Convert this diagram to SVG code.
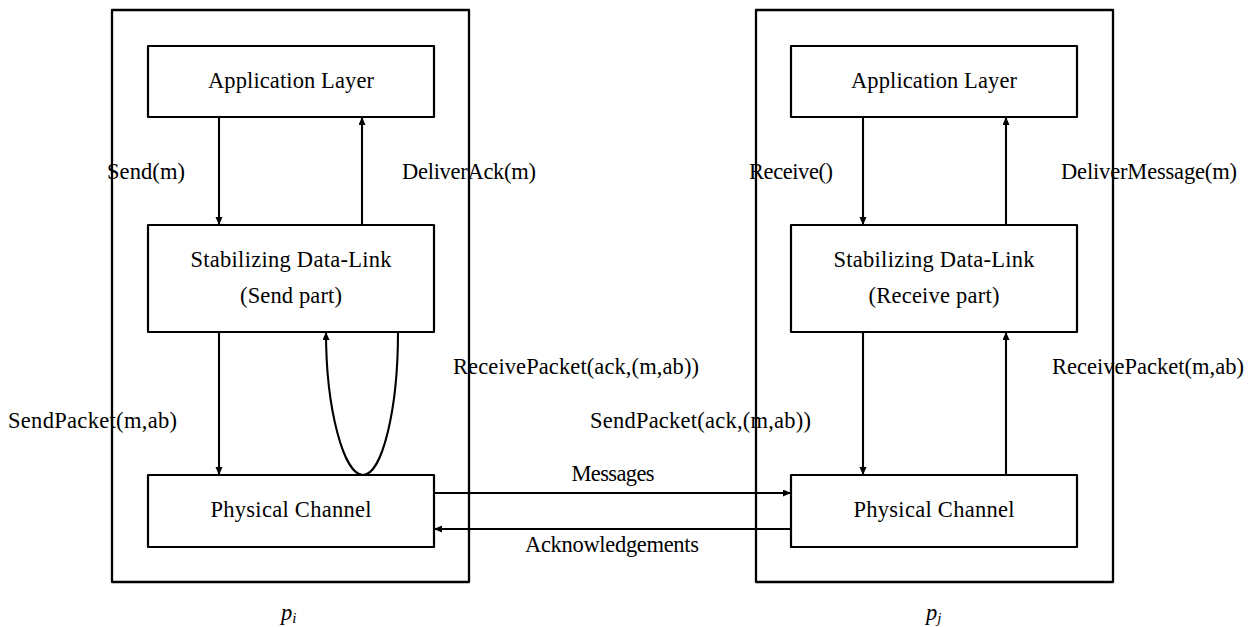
<svg xmlns="http://www.w3.org/2000/svg" width="1259" height="627" viewBox="0 0 1259 627">
<style>
.box{fill:none;stroke:#000;stroke-width:2.2;stroke-linejoin:round}
.frame{fill:none;stroke:#000;stroke-width:2.3;stroke-linejoin:round}
.ln{fill:none;stroke:#000;stroke-width:2.1}
.arr{marker-end:url(#ah)}
text{font-family:"Liberation Serif","DejaVu Serif",serif;font-size:22.5px;fill:#000}
.c{text-anchor:middle}
.it{font-style:italic}
</style>
<defs>
<marker id="ah" markerUnits="userSpaceOnUse" markerWidth="10" markerHeight="8" refX="8" refY="3.5" orient="auto">
<path d="M0,0 L8,3.5 L0,7 z" fill="#000"/>
</marker>
</defs>
<rect width="1259" height="627" fill="#fff"/>

<g id="process-pi">
<rect class="frame" x="112" y="10" width="357" height="572"/>
<text class="it" x="281" y="620" font-size="21">p<tspan font-size="15" dy="3">i</tspan></text>
</g>
<g id="process-pj">
<rect class="frame" x="756" y="10" width="357" height="572"/>
<text class="it" x="926" y="620" font-size="21">p<tspan font-size="15" dy="3">j</tspan></text>
</g>

<g id="app-left">
<rect class="box" x="148" y="46" width="286" height="71"/>
<text class="c" x="291" y="88" textLength="166">Application Layer</text>
</g>
<g id="sdl-left">
<rect class="box" x="148" y="225" width="286" height="107"/>
<text class="c" x="291" y="267" textLength="201">Stabilizing Data-Link</text>
<text class="c" x="291" y="303" textLength="102">(Send part)</text>
</g>
<g id="phy-left">
<rect class="box" x="148" y="475" width="286" height="72"/>
<text class="c" x="291" y="517" textLength="161">Physical Channel</text>
</g>

<g id="app-right">
<rect class="box" x="791" y="46" width="286" height="71"/>
<text class="c" x="934" y="88" textLength="166">Application Layer</text>
</g>
<g id="sdl-right">
<rect class="box" x="791" y="225" width="286" height="107"/>
<text class="c" x="934" y="267" textLength="201">Stabilizing Data-Link</text>
<text class="c" x="934" y="303" textLength="131">(Receive part)</text>
</g>
<g id="phy-right">
<rect class="box" x="791" y="475" width="286" height="72"/>
<text class="c" x="934" y="517" textLength="161">Physical Channel</text>
</g>

<g id="connectors">
<line class="ln arr" x1="219" y1="117" x2="219" y2="225"/>
<line class="ln arr" x1="362" y1="225" x2="362" y2="117"/>
<line class="ln arr" x1="219" y1="332" x2="219" y2="475"/>
<path class="ln arr" d="M398,332 C398,410 382,475 363,475 C344,475 326,410 326,332"/>
<line class="ln arr" x1="863" y1="117" x2="863" y2="225"/>
<line class="ln arr" x1="1006" y1="225" x2="1006" y2="117"/>
<line class="ln arr" x1="863" y1="332" x2="863" y2="475"/>
<line class="ln arr" x1="1006" y1="475" x2="1006" y2="332"/>
<line class="ln arr" x1="434" y1="493" x2="791" y2="493"/>
<line class="ln arr" x1="791" y1="529" x2="434" y2="529"/>

<text x="107" y="179" textLength="78">Send(m)</text>
<text x="402" y="179" textLength="134">DeliverAck(m)</text>
<text x="749" y="179" textLength="84">Receive()</text>
<text x="1061" y="179" textLength="176">DeliverMessage(m)</text>
<text x="453" y="374" textLength="246">ReceivePacket(ack,(m,ab))</text>
<text x="1052" y="374" textLength="192">ReceivePacket(m,ab)</text>
<text x="8" y="428" textLength="169">SendPacket(m,ab)</text>
<text x="590" y="428" textLength="221">SendPacket(ack,(m,ab))</text>
<text class="c" x="613" y="481" textLength="83">Messages</text>
<text class="c" x="612" y="552" textLength="174">Acknowledgements</text>
</g>
</svg>
